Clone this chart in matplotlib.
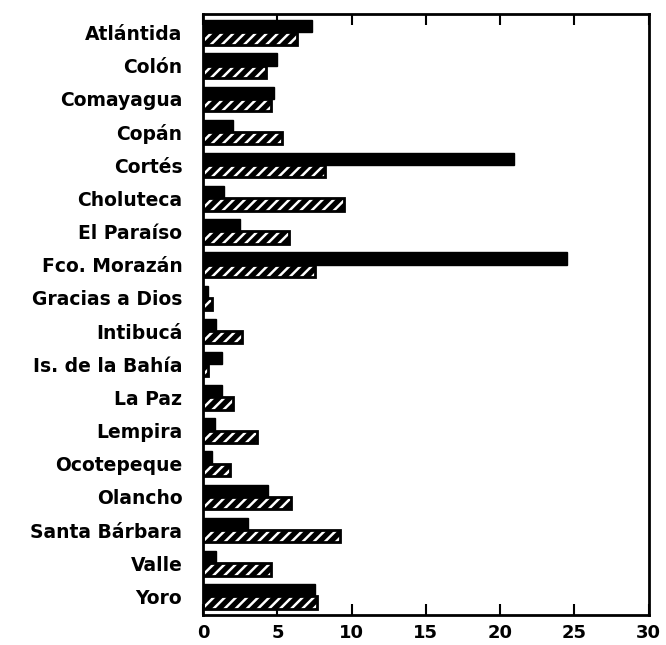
import numpy as np
import matplotlib
matplotlib.use("Agg")
import matplotlib.pyplot as plt

departamentos = ["Atlántida", "Colón", "Comayagua", "Copán", "Cortés", "Choluteca",
                 "El Paraíso", "Fco. Morazán", "Gracias a Dios", "Intibucá",
                 "Is. de la Bahía", "La Paz", "Lempira", "Ocotepeque", "Olancho",
                 "Santa Bárbara", "Valle", "Yoro"]
serie_negra = [7.3, 5.0, 4.8, 2.0, 20.9, 1.4, 2.5, 24.5, 0.3, 0.9,
               1.3, 1.3, 0.8, 0.6, 4.4, 3.0, 0.9, 7.5]
serie_rayada = [6.3, 4.2, 4.6, 5.3, 8.2, 9.5, 5.8, 7.5, 0.6, 2.6,
                0.3, 2.0, 3.6, 1.8, 5.9, 9.2, 4.6, 7.7]
ticks_x = [0, 5, 10, 15, 20, 25, 30]

plt.rcParams['font.family'] = ['DejaVu Sans']
plt.rcParams['hatch.linewidth'] = 1.8

fig = plt.figure(figsize=(6.66, 6.45), dpi=100, facecolor='white')
ax = fig.add_axes([0.305, 0.047, 0.669, 0.931])

y = np.arange(len(departamentos))
h = 0.37
ax.barh(y - h / 2, serie_negra, height=h, color='black', edgecolor='black', linewidth=1)
ax.barh(y + h / 2, serie_rayada, height=h, color='black', edgecolor='white',
        hatch='///', linewidth=0)
ax.barh(y + h / 2, serie_rayada, height=h, fill=False, edgecolor='black', linewidth=2)

ax.set_xlim(0, 30)
ax.set_ylim(len(departamentos) - 0.45, -0.55)
ax.set_xticks(ticks_x)
ax.set_xticklabels([str(t) for t in ticks_x], fontsize=13, fontweight='bold')
ax.set_yticks(y)
ax.set_yticklabels(departamentos, fontsize=13.5, fontweight='bold')
ax.tick_params(axis='y', length=0, pad=15)
ax.tick_params(axis='x', direction='in', length=8, width=1.5, top=True, pad=7)
for s in ax.spines.values():
    s.set_linewidth(2)

fig.savefig("out.png", dpi=100)
